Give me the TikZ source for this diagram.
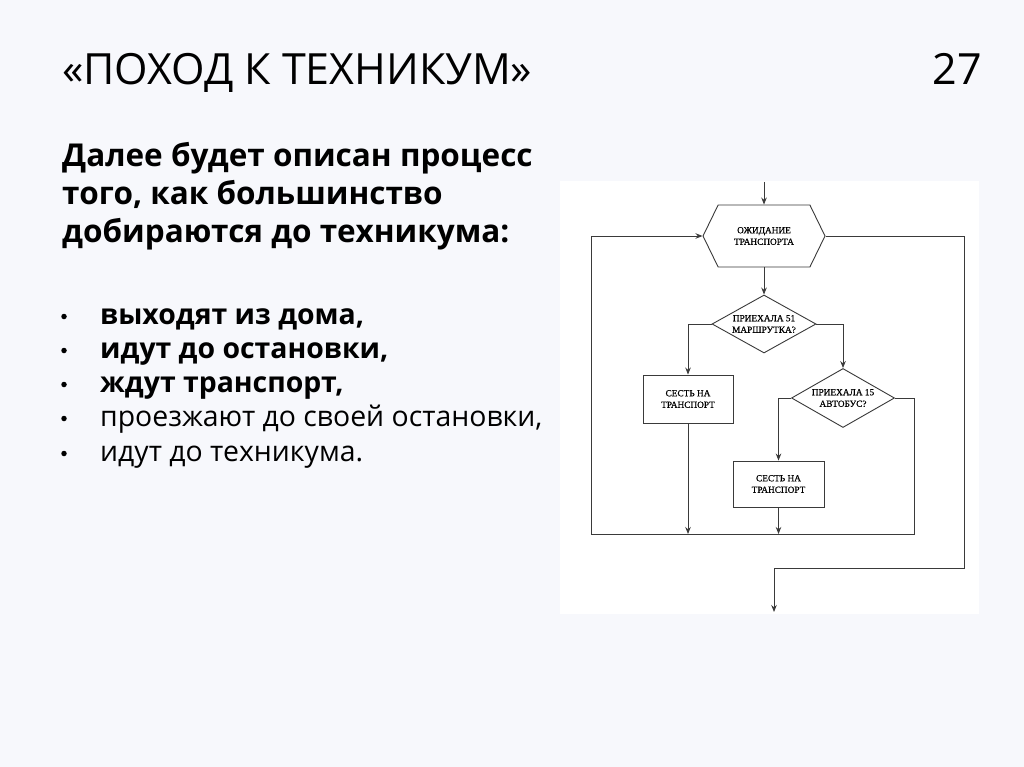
\documentclass[tikz,border=0pt]{standalone}
\usepackage{fontspec}
\setmainfont{Open Sans}
\newfontfamily\fcfont[FakeBold=0.6]{Liberation Serif}
\usetikzlibrary{shapes.geometric,shapes.symbols,arrows.meta}
\definecolor{bgc}{HTML}{F7F8FC}
\definecolor{linec}{HTML}{3A3A3A}
\begin{document}
\begin{tikzpicture}[x=1pt,y=-1pt,
  txt/.style={inner sep=0pt,anchor=base west,text=black},
  fc/.style={draw=linec,line width=0.9pt},
  arr/.style={draw=linec,line width=0.9pt,-{Stealth[length=7pt,width=5.5pt]}},
  ln/.style={draw=linec,line width=0.9pt},
  lbl/.style={font=\fcfont\fontsize{9.3}{11.5}\selectfont,align=center,text=black},
  procbox/.style={fc,rectangle,inner sep=0pt,fill=white},
  decbox/.style={fc,diamond,inner sep=0pt,fill=white},
  bul/.style={circle,fill=black,inner sep=0pt,minimum size=5.5pt}]
\useasboundingbox (0,0) rectangle (1024,767);
\fill[bgc] (0,0) rectangle (1024,767);
\fill[white] (560,181) rectangle (979,614);

% title
\node[txt,font=\fontsize{43}{48}\selectfont] (title) at (62,85) {«ПОХОД К ТЕХНИКУМ»};
\node[txt,anchor=base east,font=\fontsize{43}{48}\selectfont] (num) at (982,85) {27};

% intro
\node[txt,font=\bfseries\fontsize{31.5}{38}\selectfont] (i1) at (62,167) {Далее будет описан процесс};
\node[txt,font=\bfseries\fontsize{31.5}{38}\selectfont] (i2) at (62,205) {того, как большинство};
\node[txt,font=\bfseries\fontsize{31.5}{38}\selectfont] (i3) at (62,243) {добираются до техникума:};

% bullets
\foreach \y/\t/\f [count=\k] in {324/{выходят из дома,}/\bfseries, 358/{идут до остановки,}/\bfseries, 392/{ждут транспорт,}/\bfseries, 426/{проезжают до своей остановки,}/\mdseries, 461/{идут до техникума.}/\mdseries}{
  \node[bul] (d\k) at (64,\y-7.5) {};
  \node[txt,font=\f\fontsize{28.4}{33}\selectfont] (b\k) at (100,\y) {\t};
}

% flowchart
\coordinate (start) at (764,182);
\node[fc,signal,signal to=west and east,signal pointer angle=128,fill=white,inner sep=0pt,
  minimum width=122pt,minimum height=62pt,label={[lbl]center:ОЖИДАНИЕ\\ТРАНСПОРТА}] (hex) at (764,236) {};
\node[decbox,minimum width=104pt,minimum height=58pt,label={[lbl]center:ПРИЕХАЛА 51\\МАРШРУТКА?}] (q1) at (764,324) {};
\node[procbox,minimum width=90pt,minimum height=48pt,label={[lbl]center:СЕСТЬ НА\\ТРАНСПОРТ}] (r1) at (688,399) {};
\node[decbox,minimum width=103pt,minimum height=59pt,label={[lbl]center:ПРИЕХАЛА 15\\АВТОБУС?}] (q2) at (843,398) {};
\node[procbox,minimum width=91pt,minimum height=46pt,label={[lbl]center:СЕСТЬ НА\\ТРАНСПОРТ}] (r2) at (778.5,484) {};

\coordinate (bl) at (591,534);
\coordinate (br) at (914,534);
\coordinate (rt) at (964,236);
\coordinate (rb) at (964,568);
\coordinate (ob) at (774,568);
\coordinate (fin) at (774,612);

\draw[arr] (start) -- (hex.north -| start);
\draw[arr] (hex.south) -- (q1.north);
\draw[arr] (q1.west) -| (r1.north);
\draw[arr] (q1.east) -| (q2.north);
\draw[arr] (q2.west) -| (r2.north);
\draw[ln] (q2.east) -| (br) -- (bl);
\draw[arr] (bl) |- (hex.west);
\draw[arr] (r1.south) -- (r1.south |- bl);
\draw[arr] (r2.south) -- (r2.south |- bl);
\draw[ln] (hex.east) -- (rt) -- (rb) -- (ob);
\draw[arr] (ob) -- (fin);
\end{tikzpicture}
\end{document}
